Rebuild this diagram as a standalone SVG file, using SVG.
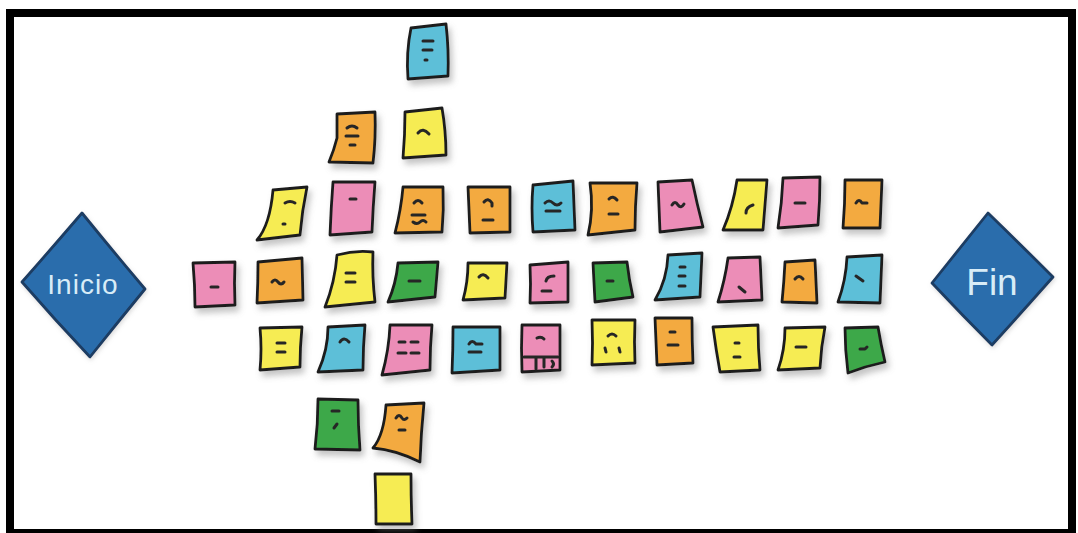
<svg xmlns="http://www.w3.org/2000/svg" width="1078" height="533" viewBox="0 0 1078 533">
<style>
.n{stroke:#1e1e1e;stroke-width:2.8;stroke-linejoin:round;filter:url(#sh)}
.y{fill:#F6EC52}.p{fill:#EC8DB7}.o{fill:#F3AA3F}.c{fill:#5DBFD8}.g{fill:#3EA84A}
.m{stroke:#262626;stroke-width:3;fill:none;stroke-linecap:round;stroke-linejoin:round}
.d{fill:#2C6DAC;stroke:#1B3C63;stroke-width:2.8;stroke-linejoin:round;filter:url(#sh2)}
.t{fill:#D8ECF7;font-family:"Liberation Sans",Arial,sans-serif;text-anchor:middle}
</style>
<defs>
<filter id="sh" x="-30%" y="-30%" width="160%" height="160%">
<feDropShadow dx="3" dy="5" stdDeviation="3" flood-color="#7a7a7a" flood-opacity="0.45"/>
</filter>
<filter id="sh2" x="-20%" y="-20%" width="140%" height="140%">
<feDropShadow dx="1" dy="2" stdDeviation="2" flood-color="#9a9a9a" flood-opacity="0.35"/>
</filter>
</defs>
<rect x="0" y="0" width="1078" height="533" fill="#ffffff"/>
<rect id="frame" x="10" y="13" width="1062" height="520" fill="none" stroke="#000" stroke-width="8"/>

<g id="inicio">
<path class="d" d="M82,213 Q112,250 145,289 Q118,322 90,357 Q55,320 22,282 Q52,248 82,213 Z"/>
<text class="t" x="83" y="294" font-size="28" letter-spacing="1">Inicio</text>
</g>
<g id="fin">
<path class="d" d="M988,213 Q1020,244 1053,277 Q1022,312 992,345 Q962,315 932,283 Q960,248 988,213 Z"/>
<text class="t" x="992" y="295" font-size="37">Fin</text>
</g>

<g id="connectors"></g>

<g id="n1"><path class="n c" d="M411,28 L446,24 Q449,50 448,76 L408,79 Q406,52 411,28 Z"/><path class="m" d="M423,41 h10 M423,50 h9 M425,60 h2"/></g>
<g id="n2"><path class="n o" d="M337,114 L375,112 Q376,138 373,163 L329,162 Q334,150 337,138 Z"/><path class="m" d="M347,128 q5,-4 10,0 M346,136 h12 M350,145 h5"/></g>
<g id="n3"><path class="n y" d="M405,112 L442,108 Q446,131 446,155 L403,158 Q405,135 405,112 Z"/><path class="m" d="M418,133 q5,-6 11,1"/></g>

<g id="n4"><path class="n y" d="M273,190 L307,187 Q302,211 300,235 L257,240 Q270,225 273,190 Z"/><path class="m" d="M285,203 q5,-3 10,0 M283,224 h2"/></g>
<g id="n5"><path class="n p" d="M333,182 L375,182 Q373,207 372,232 L330,235 Q331,208 333,182 Z"/><path class="m" d="M350,199 h6"/></g>
<g id="n6"><path class="n o" d="M403,187 L443,187 Q444,210 442,232 L395,233 Q401,210 403,187 Z"/><path class="m" d="M414,203 q4,-5 8,0 M412,215 h13 M413,222 q4,3 7,0 q3,-3 6,0"/></g>
<g id="n7"><path class="n o" d="M468,187 L510,187 L510,232 L470,233 Q469,210 468,187 Z"/><path class="m" d="M484,202 q4,-5 8,1 v3 M483,220 h10"/></g>
<g id="n8"><path class="n c" d="M533,185 L573,181 L575,230 L533,232 Q531,208 533,185 Z"/><path class="m" d="M545,203 q4,-4 8,0 q4,4 8,0 M546,211 h14"/></g>
<g id="n9"><path class="n o" d="M590,183 L637,183 Q635,206 635,230 L588,235 Q594,210 590,183 Z"/><path class="m" d="M609,199 q4,-4 8,1 M609,214 h9"/></g>
<g id="n10"><path class="n p" d="M658,182 L692,180 Q697,204 703,227 L660,232 Q659,207 658,182 Z"/><path class="m" d="M672,205 q3,-5 6,0 q3,4 6,-1"/></g>
<g id="n11"><path class="n y" d="M737,180 L767,180 Q765,205 763,230 L723,230 Q733,207 737,180 Z"/><path class="m" d="M746,213 q0,-6 7,-8"/></g>
<g id="n12"><path class="n p" d="M783,178 L820,177 Q820,201 818,225 L778,228 Q782,203 783,178 Z"/><path class="m" d="M795,203 h10"/></g>
<g id="n13"><path class="n o" d="M845,180 L882,180 Q881,204 880,228 L843,228 Q845,204 845,180 Z"/><path class="m" d="M856,203 q3,-5 6,0 h5"/></g>

<g id="n14"><path class="n p" d="M193,263 L235,262 Q234,283 235,305 L195,307 Q195,285 193,263 Z"/><path class="m" d="M211,287 h7"/></g>
<g id="n15"><path class="n o" d="M258,262 L302,258 L303,300 L257,303 Q258,283 258,262 Z"/><path class="m" d="M272,282 q3,-4 6,0 q3,4 6,0"/></g>
<g id="n16"><path class="n y" d="M337,255 Q355,250 373,252 Q372,276 375,302 L325,307 Q335,282 337,255 Z"/><path class="m" d="M346,273 h9 M346,282 h9"/></g>
<g id="n17"><path class="n g" d="M398,263 L438,262 L435,297 L388,302 Q396,284 398,263 Z"/><path class="m" d="M409,281 h11"/></g>
<g id="n18"><path class="n y" d="M468,263 L507,263 Q506,281 505,298 L463,300 Q468,282 468,263 Z"/><path class="m" d="M479,277 q4,-5 9,1"/></g>
<g id="n19"><path class="n p" d="M530,265 L568,262 L568,302 L530,303 Q531,284 530,265 Z"/><path class="m" d="M546,281 q1,-5 8,-5 M542,291 h9"/></g>
<g id="n20"><path class="n g" d="M593,263 L627,262 Q629,280 633,297 L595,302 Q594,282 593,263 Z"/><path class="m" d="M607,281 h6"/></g>
<g id="n21"><path class="n c" d="M668,255 L702,253 Q701,275 700,297 L655,300 Q667,280 668,255 Z"/><path class="m" d="M680,267 h5 M679,276 h6 M679,286 h6"/></g>
<g id="n22"><path class="n p" d="M728,258 L760,257 Q761,278 762,300 L718,302 Q725,280 728,258 Z"/><path class="m" d="M739,287 l6,5"/></g>
<g id="n23"><path class="n o" d="M785,262 L815,260 Q816,282 817,303 L782,302 Q784,282 785,262 Z"/><path class="m" d="M795,279 q4,-5 8,0"/></g>
<g id="n24"><path class="n c" d="M847,257 L882,255 Q881,279 880,303 L838,302 Q846,280 847,257 Z"/><path class="m" d="M856,276 l7,5"/></g>

<g id="n25"><path class="n y" d="M260,328 L302,327 Q300,347 300,367 L260,370 Q262,349 260,328 Z"/><path class="m" d="M277,343 h8 M277,352 h8"/></g>
<g id="n26"><path class="n c" d="M328,327 L365,325 Q363,347 363,370 L318,372 Q328,350 328,327 Z"/><path class="m" d="M340,342 q4,-6 9,0"/></g>
<g id="n27"><path class="n p" d="M390,325 L432,325 Q430,347 430,370 L382,375 Q389,350 390,325 Z"/><path class="m" d="M399,342 h6 M411,342 h7 M398,353 h8 M411,353 h8"/></g>
<g id="n28"><path class="n c" d="M453,327 L500,327 L500,370 L452,373 Q453,350 453,327 Z"/><path class="m" d="M469,344 q3,-5 7,0 h6 M469,352 h12"/></g>
<g id="n29"><path class="n p" d="M522,325 L560,325 L560,370 L522,372 Q521,348 522,325 Z"/><path class="m" d="M537,338 q4,-2 7,1 M524,357 h34 M536,357 v12 M544,357 v10 M552,361 q3,3 0,6"/></g>
<g id="n30"><path class="n y" d="M592,320 L635,320 Q634,342 635,363 L592,365 Q593,343 592,320 Z"/><path class="m" d="M608,336 q4,-4 8,0 M605,348 l1,4 M619,348 l1,4"/></g>
<g id="n31"><path class="n o" d="M655,318 L692,318 Q692,341 693,363 L657,365 Q656,342 655,318 Z"/><path class="m" d="M670,332 h5 M668,345 h10"/></g>
<g id="n32"><path class="n y" d="M713,327 L758,325 Q758,348 760,370 L720,372 Q716,350 713,327 Z"/><path class="m" d="M735,343 h4 M734,357 h6"/></g>
<g id="n33"><path class="n y" d="M785,328 L825,327 Q821,347 820,368 L778,370 Q785,350 785,328 Z"/><path class="m" d="M796,347 h10"/></g>
<g id="n34"><path class="n g" d="M845,328 L878,327 Q881,345 885,362 Q866,366 848,373 Q845,350 845,328 Z"/><path class="m" d="M860,349 h5 l2,-2"/></g>

<g id="n35"><path class="n g" d="M318,399 L358,400 Q358,425 360,450 L315,449 Q318,424 318,399 Z"/><path class="m" d="M332,411 h7 M334,428 l3,-4"/></g>
<g id="n36"><path class="n o" d="M386,405 L424,403 Q421,433 420,462 Q396,450 373,448 Q384,435 386,405 Z"/><path class="m" d="M396,418 q3,-5 6,0 q2,3 5,0 M399,430 h6"/></g>
<g id="n37"><path class="n y" d="M375,474 L411,474 Q411,499 412,524 L376,524 Q376,499 375,474 Z"/></g>
</svg>
